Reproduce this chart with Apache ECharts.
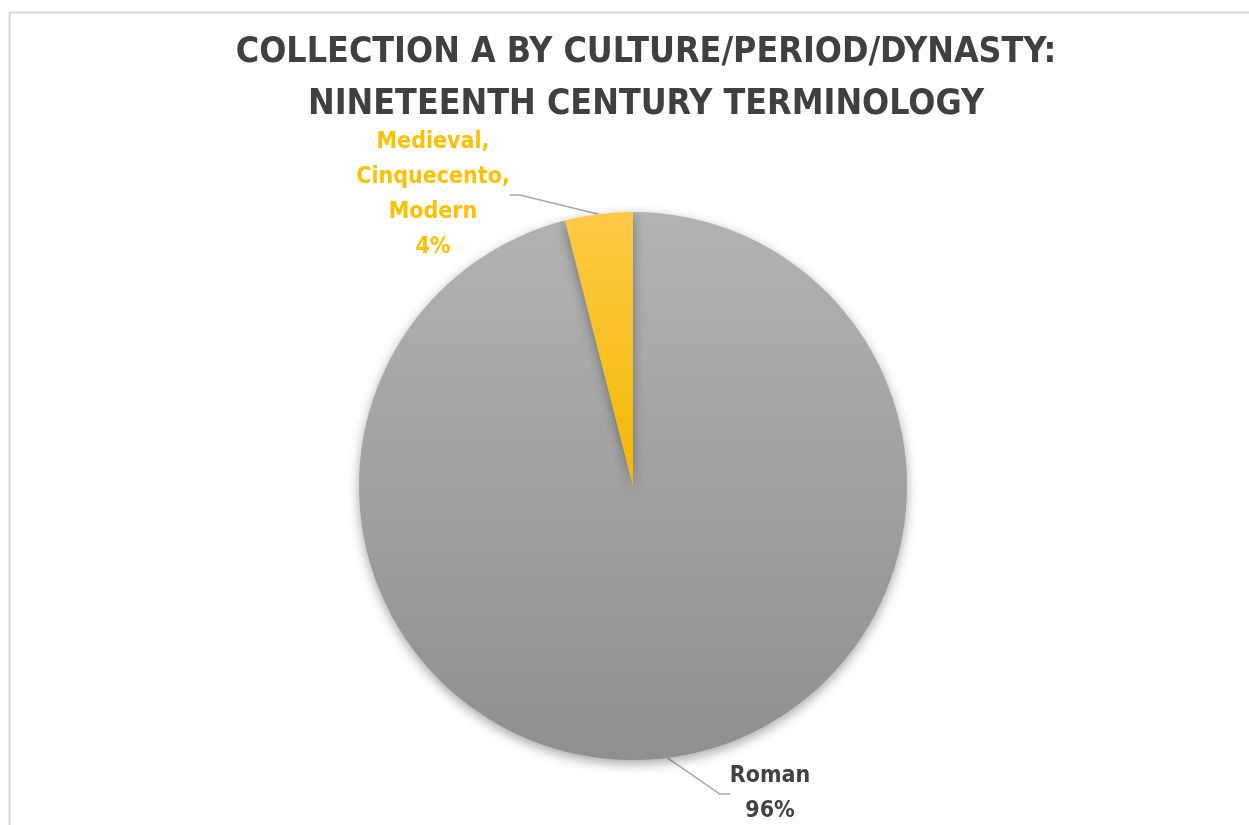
<!DOCTYPE html>
<html>
<head>
<meta charset="utf-8">
<script src="https://cdn.jsdelivr.net/npm/echarts@6/dist/echarts.min.js"></script>
<style>
  html, body { margin: 0; padding: 0; background: #ffffff; }
  #chart { width: 1249px; height: 825px; }
</style>
</head>
<body>
<div id="chart"></div>
<script>
// Share of collection A by culture / period / dynasty (percent)
const categories = ['Roman', 'Medieval, Cinquecento, Modern'];
const labelNames = ['Roman', 'Medieval,\nCinquecento,\nModern'];
const shares = [96, 4];

const sliceGradients = [
  ['#b2b2b2', '#8f8f8f'],
  ['#ffca48', '#f2b800']
];
const labelColors = ['#424242', '#ffc000'];

const chart = echarts.init(document.getElementById('chart'));

const data = categories.map((name, i) => ({
  name: name,
  value: shares[i],
  itemStyle: {
    color: new echarts.graphic.LinearGradient(0, 0, 0, 1, [
      { offset: 0, color: sliceGradients[i][0] },
      { offset: 1, color: sliceGradients[i][1] }
    ])
  },
  label: {
    color: labelColors[i],
    formatter: labelNames[i] + '\n{c}%'
  }
}));

// Label anchor points for the two slices
const labelSpots = [
  { x: 770, y: 794 },
  { x: 433, y: 195 }
];

const fontStack = 'DejaVu Sans Condensed, DejaVu Sans, sans-serif';

chart.setOption({
  backgroundColor: '#ffffff',
  title: {
    text: 'COLLECTION A BY CULTURE/PERIOD/DYNASTY:\nNINETEENTH CENTURY TERMINOLOGY',
    left: 641,
    textAlign: 'center',
    top: 22,
    textStyle: {
      fontFamily: fontStack,
      fontWeight: 'bold',
      fontSize: 35.5,
      lineHeight: 52,
      color: '#404040'
    }
  },
  graphic: [{
    type: 'rect',
    shape: { x: 9.5, y: 12.5, width: 1260, height: 840 },
    style: { fill: 'none', stroke: '#d9d9d9', lineWidth: 2 },
    silent: true
  }],
  series: [{
    type: 'pie',
    center: [633, 486],
    radius: [0, 274],
    startAngle: 90,
    clockwise: true,
    data: data,
    itemStyle: {
      shadowBlur: 12,
      shadowOffsetY: 4,
      shadowColor: 'rgba(0,0,0,0.35)'
    },
    label: {
      show: true,
      position: 'outside',
      fontFamily: fontStack,
      fontWeight: 'bold',
      fontSize: 23,
      lineHeight: 35,
      align: 'center'
    },
    labelLine: {
      show: true,
      length: 20,
      length2: 10,
      lineStyle: { color: '#a6a6a6', width: 1.5 }
    },
    labelLayout: function (params) {
      const s = labelSpots[params.dataIndex];
      return { x: s.x, y: s.y, align: 'center', verticalAlign: 'middle' };
    },
    emphasis: { disabled: true }
  }]
});
</script>
</body>
</html>
